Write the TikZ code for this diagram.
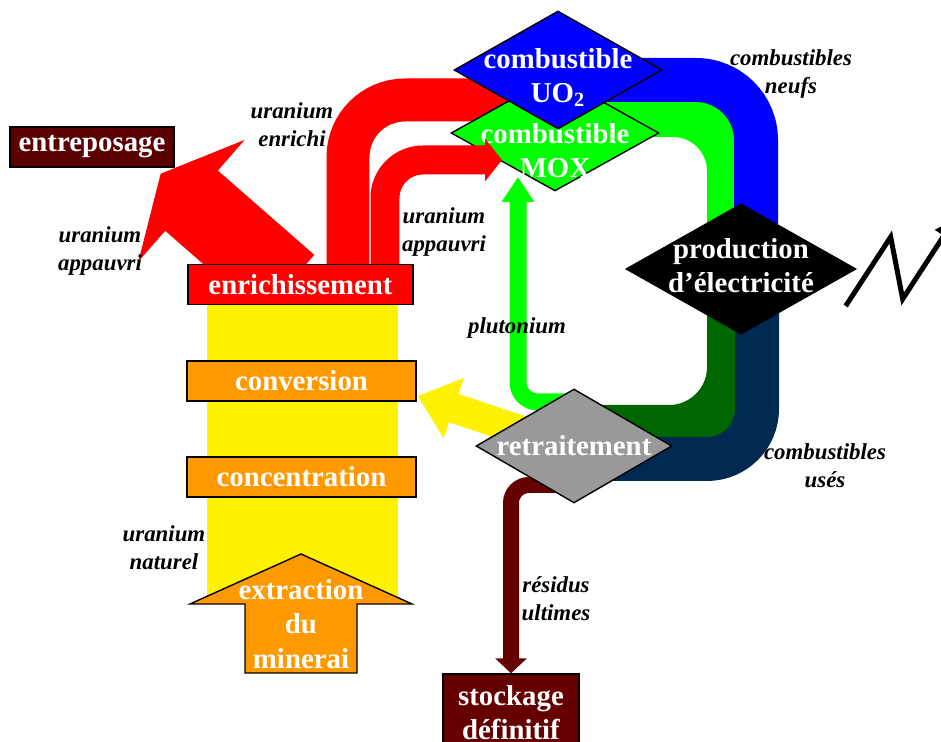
\documentclass[tikz,border=0pt]{standalone}
\usepackage{fontspec}
\setmainfont{Liberation Serif}
\usetikzlibrary{shapes.geometric,arrows.meta,calc}

\definecolor{orangebox}{RGB}{255,153,0}
\definecolor{grisdiam}{RGB}{153,153,153}
\definecolor{vertfonce}{RGB}{0,102,0}
\definecolor{bleunuit}{RGB}{0,41,82}
\definecolor{bordeaux}{RGB}{90,0,0}
\definecolor{bordeauxfonce}{RGB}{102,0,0}

\pgfdeclarelayer{background}
\pgfdeclarelayer{foreground}
\pgfsetlayers{background,main,foreground}

\tikzset{
  wtext/.style={text=white,font=\bfseries\fontsize{16.4}{19.5}\selectfont,align=center},
  lbl/.style={font=\bfseries\itshape\fontsize{13}{16}\selectfont,align=center},
  stage/.style={draw=black,line width=0.8pt,fill=orangebox,minimum width=4.58cm,
    minimum height=0.8cm,inner sep=0pt,wtext},
  diam/.style={diamond,draw=black,line width=0.8pt,inner sep=0pt}
}

\begin{document}
\begin{tikzpicture}[x=0.02cm,y=-0.02cm]
\useasboundingbox (0,0) rectangle (941,742);

\node[stage,fill=red,minimum width=4.5cm] (enrich) at (300.5,284.5) {enrichissement};
\node[stage] (conv) at (301.5,381) {conversion};
\node[stage] (conc) at (301.5,477) {concentration};
\node[stage,fill=bordeaux,minimum width=3.28cm] (entrepot) at (92,147) {entreposage};
\node[stage,fill=bordeauxfonce,minimum width=2.72cm,minimum height=1.56cm] (stock) at (511,713) {stockage\\définitif};

\node[diam,fill=green,minimum width=4.16cm,minimum height=2.32cm,
  label={[wtext,yshift=-0.36cm]center:combustible\\MOX}] (mox) at (555,133) {};
\node[diam,fill=blue,minimum width=4.16cm,minimum height=2.36cm,
  label={[wtext,yshift=-0.15cm]center:combustible\\UO\textsubscript{2}}] (uo2) at (558,70) {};
\node[diam,fill=black,minimum width=4.6cm,minimum height=2.6cm,
  label={[wtext,yshift=0.06cm]center:production\\d'électricité}] (prod) at (741,269) {};
\node[diam,fill=grisdiam,minimum width=3.92cm,minimum height=2.28cm,
  label={[wtext]center:retraitement}] (retrait) at (574,446) {};

\draw[fill=orangebox,line width=0.8pt] (190,604) -- (301,554) -- (412,604) -- (357,604)
  -- (357,673) -- (245,673) -- (245,604) -- cycle;
\node[wtext] (extract) at (301,624) {extraction\\du\\minerai};

\begin{pgfonlayer}{background}
\fill[yellow] (207,290) rectangle (398,600);
\draw[red,line width=0.86cm,rounded corners=1.14cm] ($(enrich)+(47.5,0)$) |- ($(uo2)+(-38,30)$);
\draw[green,line width=1.2cm,rounded corners=1.28cm] ($(mox)+(0,-26)$) -| ($(prod)+(-4,-29)$);
\draw[blue,line width=0.88cm,rounded corners=1.2cm] ($(uo2)+(0,10)$) -| ($(prod)+(15,-29)$);
\draw[vertfonce,line width=1.2cm,rounded corners=1.36cm] ($(prod)+(-4,29)$) |- ($(retrait)+(0,-11)$);
\draw[bleunuit,line width=0.88cm,rounded corners=1.0cm] ($(prod)+(16,29)$) |- ($(retrait)+(0,13)$);
\draw[green,line width=0.34cm,rounded corners=0.4cm,-{Triangle[width=0.62cm,length=0.5cm]}]
  ($(retrait)+(0,-44)$) -| ($(mox)+(-37,44)$);
\draw[yellow,line width=0.6cm,-{Triangle[width=1.22cm,length=0.76cm]}]
  ($(retrait)+(-34,-9)$) -- ($(conv.east)+(1,15)$);
\draw[bordeauxfonce,line width=0.32cm,rounded corners=0.36cm,-{Triangle[width=0.62cm,length=0.3cm]}]
  ($(retrait)+(-14,39)$) -| (stock.north);
\begin{scope}
\clip (0,0) rectangle (enrich.north east);
\draw[red,line width=1.6cm,-{Triangle[width=3.2cm,length=0.82cm]}]
  ($(enrich)+(-12.5,0.5)$) -- ($(entrepot.south east)+(-14,6)$);
\end{scope}
\end{pgfonlayer}

\begin{pgfonlayer}{foreground}
\draw[red,line width=0.58cm,rounded corners=0.76cm,-{Triangle[width=0.84cm,length=0.34cm]}]
  ($(enrich.north)+(84.5,0)$) |- ($(mox)+(-53,27)$);
\end{pgfonlayer}

\draw[line width=0.1cm,-{Triangle[width=0.4cm,length=0.4cm]}]
  ($(prod.east)+(-11,37)$) -- ++(45,-69) -- ++(12,62) -- ++(52,-80);

\node[lbl] (lenrichi) at (292,125) {uranium\\enrichi};
\node[lbl] (lappg) at (100,251) {uranium\\appauvri};
\node[lbl] (lappd) at (444,232) {uranium\\appauvri};
\node[lbl] (lplut) at (517,328) {plutonium};
\node[lbl] (lneufs) at (791,74) {combustibles\\neufs};
\node[lbl] (luses) at (825,466) {combustibles\\usés};
\node[lbl] (lnat) at (164,548) {uranium\\naturel};
\node[lbl] (lresid) at (556,599) {résidus\\ultimes};
\end{tikzpicture}
\end{document}
